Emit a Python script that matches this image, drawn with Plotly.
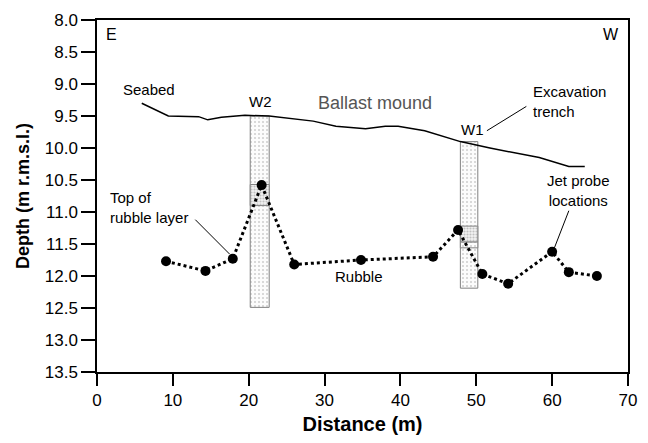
import plotly.graph_objects as go

# ---- data ----
seabed_x = [5.9, 9.4, 13.4, 14.6, 16.4, 19.5, 22.7, 25.1, 28.5, 31.5, 35.4, 38.0, 39.7, 43.2, 47.9, 51.8, 58.3, 62.2, 64.3]
seabed_depth = [9.30, 9.50, 9.51, 9.56, 9.52, 9.49, 9.50, 9.53, 9.58, 9.66, 9.70, 9.66, 9.66, 9.73, 9.90, 10.00, 10.15, 10.29, 10.29]

probe_x = [9.1, 14.3, 17.9, 21.7, 26.0, 34.8, 44.3, 47.6, 50.8, 54.2, 60.0, 62.2, 65.9]
probe_depth = [11.77, 11.92, 11.73, 10.58, 11.82, 11.75, 11.70, 11.28, 11.97, 12.12, 11.62, 11.94, 12.00]

# trenches: name, x-left, x-right, top depth, bottom depth
trench_names = ["W2", "W1"]
trench_x0 = [20.2, 47.9]
trench_x1 = [22.7, 50.2]
trench_top = [9.50, 9.90]
trench_bottom = [12.49, 12.19]
# denser rubble band inside the trenches
band_top = [10.57, 11.22]
band_bottom = [10.90, 11.47]
band2_top = [None, 11.47]
band2_bottom = [None, 11.56]

x_ticks = [0, 10, 20, 30, 40, 50, 60, 70]
y_ticks = [8.0, 8.5, 9.0, 9.5, 10.0, 10.5, 11.0, 11.5, 12.0, 12.5, 13.0, 13.5]

FONT = "Liberation Sans, Arial, sans-serif"

fig = go.Figure()

def rect(x0, x1, y0, y1, pattern, line_color="#808080"):
    return go.Scatter(
        x=[x0, x1, x1, x0, x0], y=[y0, y0, y1, y1, y0],
        mode="lines", fill="toself", fillcolor="white",
        fillpattern=pattern,
        line=dict(color=line_color, width=1),
        hoverinfo="skip", showlegend=False,
    )

for i in range(len(trench_names)):
    fig.add_trace(rect(trench_x0[i], trench_x1[i], trench_top[i], trench_bottom[i],
                       dict(shape=".", size=4, solidity=0.2, fgcolor="#a0a0a0", bgcolor="#fcfcfc")))
    fig.add_trace(rect(trench_x0[i], trench_x1[i], band_top[i], band_bottom[i],
                       dict(shape=".", size=3, solidity=0.4, fgcolor="#909090", bgcolor="#f2f2f2")))
    if band2_top[i] is not None:
        fig.add_trace(rect(trench_x0[i], trench_x1[i], band2_top[i], band2_bottom[i],
                           dict(shape=".", size=4, solidity=0.2, fgcolor="#a0a0a0", bgcolor="#fcfcfc")))

fig.add_trace(go.Scatter(x=seabed_x, y=seabed_depth, mode="lines",
                         line=dict(color="black", width=1.5), showlegend=False, hoverinfo="skip"))

fig.add_trace(go.Scatter(x=probe_x, y=probe_depth, mode="lines+markers",
                         line=dict(color="black", width=3, dash="dot"),
                         marker=dict(color="black", size=10),
                         showlegend=False, hoverinfo="skip"))

# leader lines (x0, y0, x1, y1)
leaders = [
    (51.4, 9.73, 56.6, 9.35),
    (62.2, 10.98, 60.3, 11.56),
    (12.96, 11.12, 17.5, 11.66),
]
for (a, b, c, d) in leaders:
    fig.add_shape(type="line", x0=a, y0=b, x1=c, y1=d, xref="x", yref="y",
                  line=dict(color="black", width=1))

# text labels: text, x, y, xanchor, size, color, align
labels = [
    ("E", 0.9, 8.22, "left", 16, "black", "left"),
    ("W", 67.8, 8.22, "center", 16, "black", "left"),
    ("Seabed", 3.15, 9.08, "left", 15, "black", "left"),
    ("W2", 21.5, 9.27, "center", 15, "black", "center"),
    ("Ballast mound", 36.7, 9.30, "center", 18, "#555555", "center"),
    ("W1", 49.5, 9.71, "center", 15, "black", "center"),
    ("Excavation<br>trench", 57.25, 9.28, "left", 15, "black", "left"),
    ("Jet probe<br>locations", 63.5, 10.67, "center", 15, "black", "center"),
    ("Top of<br>rubble layer", 1.5, 10.93, "left", 15, "black", "left"),
    ("Rubble", 34.5, 12.0, "center", 15, "black", "center"),
]
for (t, x, y, xa, s, c, al) in labels:
    fig.add_annotation(text=t, x=x, y=y, xref="x", yref="y", xanchor=xa, yanchor="middle",
                       showarrow=False, align=al, font=dict(family=FONT, size=s, color=c))

fig.update_layout(
    width=648, height=443,
    margin=dict(l=97, r=11, t=16, b=71),
    paper_bgcolor="white", plot_bgcolor="white",
    font=dict(family=FONT, size=17, color="black"),
    showlegend=False,
)
fig.update_xaxes(
    range=[0, 70], tickvals=x_ticks, ticktext=[str(v) for v in x_ticks],
    showgrid=False, zeroline=False,
    showline=True, linecolor="black", linewidth=1.5, mirror=True,
    ticks="outside", ticklen=12, tickwidth=1.5, tickcolor="black",
    tickfont=dict(family=FONT, size=17),
    title=dict(text="<b>Distance (m)</b>", font=dict(family=FONT, size=20), standoff=8),
)
fig.update_yaxes(
    range=[13.5, 8.0], tickvals=y_ticks, ticktext=[f"{v:.1f}" for v in y_ticks],
    showgrid=False, zeroline=False,
    showline=True, linecolor="black", linewidth=1.5, mirror=True,
    ticks="outside", ticklen=14, tickwidth=1.5, tickcolor="black",
    tickfont=dict(family=FONT, size=17),
    title=dict(text="<b>Depth (m r.m.s.l.)</b>", font=dict(family=FONT, size=18), standoff=10),
)

fig.write_html("out.html")
